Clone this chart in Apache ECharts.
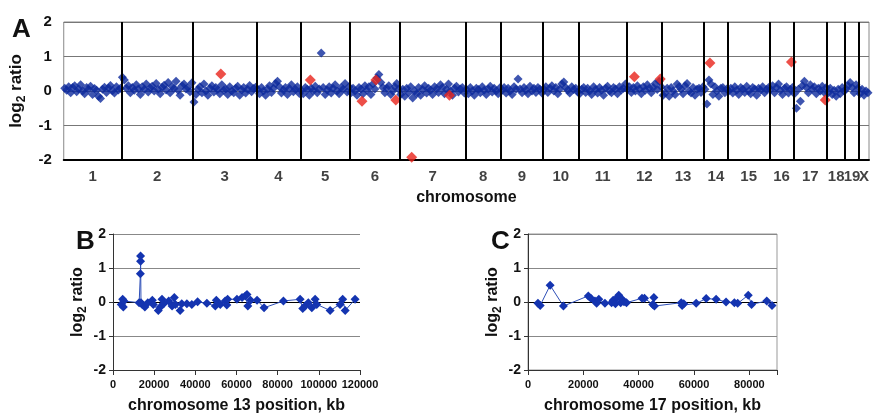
<!DOCTYPE html>
<html>
<head>
<meta charset="utf-8">
<script src="https://cdn.jsdelivr.net/npm/echarts@6/dist/echarts.min.js"></script>
<style>
  html, body { margin: 0; padding: 0; background: #fff; }
  #chart { width: 875px; height: 418px; }
</style>
</head>
<body>
<div id="chart"></div>
<script>
// chromosome names, in plotting order
const chromNames = ['1', '2', '3', '4', '5', '6', '7', '8', '9', '10', '11', '12', '13', '14', '15', '16', '17', '18', '19', 'X'];

// log2 ratio of each clone, in genome order, per chromosome
const chr1 = [0.08, 0.02, 0.12, -0.05, 0.1, 0.15, -0.02, 0.06, 0.18, 0.0, -0.08, 0.1, 0.04, 0.14, -0.1, 0.07, 0.02, -0.15, -0.22, 0.05, 0.11, -0.04, 0.09, 0.16, 0.01, -0.06, 0.12, 0.03, 0.08];
const chr2 = [0.4, 0.32, 0.08, 0.15, -0.05, 0.1, 0.02, 0.18, 0.06, -0.1, 0.12, 0.04, 0.2, -0.03, 0.09, 0.14, 0.0, 0.22, 0.05, -0.08, 0.11, 0.17, 0.03, 0.25, -0.05, 0.13, 0.07, 0.28, 0.02, -0.12, 0.15, 0.2, 0.06, 0.1, -0.02, 0.24];
const chr3 = [-0.32, -0.1, 0.05, 0.12, -0.05, 0.2, 0.0, -0.12, 0.08, 0.15, -0.03, 0.1, 0.04, -0.08, 0.18, 0.02, 0.06, -0.1, 0.12, 0.0, -0.05, 0.08, 0.14, -0.12, 0.03, 0.1, -0.06, 0.05, 0.16, -0.02, 0.07, 0.11];
const chr4 = [0.05, -0.08, 0.1, 0.0, -0.12, 0.06, 0.15, -0.04, 0.08, 0.22, 0.28, 0.12, -0.06, 0.03, 0.1, -0.1, 0.07, 0.18, -0.02, 0.05, 0.12, -0.07];
const chr5 = [0.02, -0.08, 0.1, 0.05, -0.12, 0.08, 0.0, 0.14, -0.05, 0.06, 1.1, 0.1, -0.1, 0.03, 0.12, -0.06, 0.08, 0.18, 0.0, -0.08, 0.1, 0.05, 0.22, -0.03, 0.12];
const chr6 = [-0.05, 0.08, 0.0, -0.12, 0.1, 0.05, -0.08, 0.15, 0.02, 0.12, -0.1, 0.2, 0.06, 0.38, 0.48, 0.25, 0.1, -0.05, 0.08, 0.15, -0.1, 0.0, 0.12, 0.22, 0.05];
const chr7 = [-0.1, 0.05, -0.15, 0.08, -0.05, 0.12, -0.2, 0.0, -0.08, 0.1, -0.12, 0.04, 0.15, -0.06, 0.08, 0.02, -0.1, 0.12, 0.06, -0.04, 0.18, 0.1, -0.08, 0.05, 0.2, 0.0, -0.12, 0.08, 0.14, -0.03, 0.06, 0.1, -0.06];
const chr8 = [0.05, -0.08, 0.1, 0.0, -0.12, 0.08, 0.04, -0.05, 0.12, 0.02, -0.1, 0.06, 0.14, -0.03, 0.08, 0.0, -0.08, 0.1];
const chr9 = [0.02, 0.1, -0.06, 0.08, 0.0, -0.1, 0.12, 0.05, 0.35, 0.06, -0.05, 0.1, 0.02, -0.08, 0.14, 0.0, 0.08, -0.04, 0.1, 0.05, -0.06];
const chr10 = [0.05, 0.12, -0.04, 0.08, 0.15, 0.0, 0.1, -0.08, 0.06, 0.2, 0.26, 0.1, 0.02, -0.06, 0.12, 0.04, 0.08, -0.03];
const chr11 = [-0.08, 0.05, 0.1, -0.04, 0.08, 0.0, -0.1, 0.12, 0.04, -0.06, 0.1, 0.02, -0.12, 0.08, 0.14, 0.0, -0.05, 0.1, 0.06, -0.08, 0.12, 0.03, 0.08, 0.2];
const chr12 = [0.05, 0.12, -0.04, 0.1, 0.0, 0.15, 0.06, -0.08, 0.12, 0.02, 0.18, 0.08, -0.05, 0.1, 0.22, 0.04, 0.28, 0.12];
const chr13 = [-0.12, -0.05, 0.08, -0.15, 0.1, 0.0, -0.1, 0.2, 0.12, 0.05, -0.08, 0.15, 0.22, 0.0, -0.06, 0.1, -0.12, 0.05, 0.08, -0.04, 0.12];
const chr14 = [0.05, -0.38, 0.32, 0.2, -0.1, 0.12, 0.0, -0.15, 0.08, 0.1, -0.05, 0.06];
const chr15 = [0.0, 0.08, -0.06, 0.12, 0.02, -0.1, 0.1, 0.05, -0.04, 0.14, 0.0, -0.08, 0.1, 0.06, -0.12, 0.08, 0.02, 0.12, -0.05, 0.04, 0.1];
const chr16 = [0.05, 0.15, -0.05, 0.1, 0.2, 0.02, -0.1, 0.08, 0.12, -0.06, 0.04, 0.1];
const chr17 = [-0.08, -0.5, 0.05, -0.3, 0.15, 0.28, 0.1, -0.05, 0.18, 0.05, 0.12, -0.08, 0.08, 0.0, 0.14, -0.04, 0.1];
const chr18 = [-0.05, 0.08, -0.1, 0.02, -0.15, 0.05, -0.08, 0.1, 0.0];
const chr19 = [0.05, 0.15, 0.25, 0.1, -0.05, 0.18, 0.08];
const chrX = [-0.08, 0.05, -0.12, 0.0, -0.05];
const chromValues = [chr1, chr2, chr3, chr4, chr5, chr6, chr7, chr8, chr9, chr10, chr11, chr12, chr13, chr14, chr15, chr16, chr17, chr18, chr19, chrX];

// clones called as changed (clone index, log2 ratio)
const changedClones = [[79, 0.49], [124, 0.32], [150, -0.30], [157, 0.32], [167, -0.26], [175, -1.92], [194, -0.12], [287, 0.41], [300, 0.35], [325, 0.81], [366, 0.84], [383, -0.26]];

// panel B: chromosome 13 (kb, log2 ratio)
const chr13Pos = [4000, 4700, 5000, 5300, 12700, 13300, 13400, 13400, 13600, 14200, 15500, 16900, 19100, 19600, 22000, 23000, 23800, 24600, 27100, 28700, 29800, 30300, 32600, 33400, 35900, 38300, 41100, 45600, 49700, 50200, 52100, 54500, 55300, 55700, 60200, 62700, 64300, 65100, 65500, 66800, 70000, 73400, 82800, 90900, 92200, 93300, 94900, 96600, 98200, 99000, 105500, 110300, 111600, 112800, 117600];
const chr13Ratio = [-0.07, 0.08, -0.15, 0.03, -0.02, 0.83, 1.2, 1.35, -0.02, -0.07, -0.15, -0.02, 0.05, -0.07, -0.25, -0.15, 0.08, -0.05, 0.03, -0.12, 0.13, -0.07, -0.25, -0.05, -0.05, -0.07, 0.01, -0.04, -0.12, 0.05, -0.07, 0.03, -0.09, 0.08, 0.08, 0.13, 0.18, 0.22, -0.12, 0.05, 0.05, -0.17, 0.03, 0.08, -0.19, -0.12, -0.02, -0.17, 0.08, -0.07, -0.25, -0.07, 0.08, -0.25, 0.08];

// panel C: chromosome 17 (kb, log2 ratio)
const chr17Pos = [3600, 4400, 8000, 12800, 21800, 22700, 24200, 24800, 25600, 27800, 30200, 30800, 31600, 32300, 32800, 33500, 34000, 34700, 35600, 41200, 42100, 45100, 45500, 45700, 55400, 55700, 56300, 60800, 64400, 68000, 71600, 74600, 75800, 79600, 80800, 86300, 88200];
const chr17Ratio = [-0.04, -0.1, 0.49, -0.12, 0.18, 0.11, 0.03, -0.04, 0.08, -0.04, -0.02, 0.05, -0.05, 0.13, 0.2, -0.02, 0.08, 0.01, -0.02, 0.11, 0.11, -0.07, 0.13, -0.12, -0.02, -0.1, -0.05, -0.04, 0.1, 0.08, 0, -0.02, -0.04, 0.2, -0.07, 0.03, -0.1];

// build genome-wide points, chromosome boundaries and label positions
const clonePoints = [];
const bounds = [];
const labelPoints = [];
let offset = 0;
chromValues.forEach((arr, k) => {
  arr.forEach((v, i) => clonePoints.push([offset + i + 0.5, v]));
  labelPoints.push({ value: [offset + arr.length / 2, -2], name: chromNames[k] });
  offset += arr.length;
  bounds.push(offset);
});
const totalClones = offset;

const font = 'Liberation Sans, Arial, sans-serif';
const blue = '#0e2a9c';
const txt = { color: '#111', fontFamily: font, fontWeight: 'bold' };

const logName = 'log{s|2} ratio';
const logRich = { s: { fontSize: 12, fontFamily: font, fontWeight: 'bold', color: '#111', padding: [10, 0, 0, 0] } };

function smallY(gridIndex) {
  return {
    gridIndex, type: 'value', min: -2, max: 2, interval: 1,
    axisLine: { show: true, lineStyle: { color: '#333', width: 1 } },
    axisTick: { show: true, length: 4, lineStyle: { color: '#333' } },
    axisLabel: { ...txt, fontSize: 14, margin: 7 },
    splitLine: { lineStyle: { color: ['#888', '#888', '#000', '#888', '#888'], width: 1 } },
    name: logName, nameLocation: 'middle', nameGap: 24,
    nameTextStyle: { ...txt, fontSize: 16, rich: logRich },
  };
}
function smallX(gridIndex, max, name) {
  return {
    gridIndex, type: 'value', min: 0, max, interval: 20000,
    axisLine: { onZero: false, lineStyle: { color: '#333', width: 1 } },
    axisTick: { show: true, length: 5, lineStyle: { color: '#333' } },
    axisLabel: { ...txt, fontSize: 11, margin: 9, formatter: v => (v % 20000 === 0 ? String(v) : '') },
    splitLine: { show: false },
    name, nameLocation: 'middle', nameGap: 28,
    nameTextStyle: { ...txt, fontSize: 16 },
  };
}

const chart = echarts.init(document.getElementById('chart'));
chart.setOption({
  animation: false,
  backgroundColor: '#fff',
  title: [
    { text: 'A', left: 7, top: 12, textStyle: { ...txt, fontSize: 26 } },
    { text: 'B', left: 71, top: 224, textStyle: { ...txt, fontSize: 26 } },
    { text: 'C', left: 486, top: 224, textStyle: { ...txt, fontSize: 26 } },
  ],
  grid: [
    { left: 58, top: 22, width: 811, height: 138, show: true, borderColor: '#888', borderWidth: 1 },
    { left: 113, top: 234, width: 247, height: 136 },
    { left: 528, top: 234, width: 249, height: 136, show: true, borderColor: '#999', borderWidth: 1 },
  ],
  xAxis: [
    {
      gridIndex: 0, type: 'value', min: 0, max: totalClones,
      axisLine: { onZero: false, lineStyle: { color: '#000', width: 2 } },
      axisTick: { show: false }, axisLabel: { show: false }, splitLine: { show: false },
      name: 'chromosome', nameLocation: 'middle', nameGap: 30,
      nameTextStyle: { ...txt, fontSize: 16 },
    },
    smallX(1, 120000, 'chromosome 13 position, kb'),
    smallX(2, 90000, 'chromosome 17 position, kb'),
  ],
  yAxis: [
    {
      gridIndex: 0, type: 'value', min: -2, max: 2, interval: 1,
      axisLine: { show: false }, axisTick: { show: false },
      axisLabel: { ...txt, fontSize: 15, margin: 12 },
      splitLine: { lineStyle: { color: '#777', width: 1 } },
      name: logName, nameLocation: 'middle', nameGap: 26,
      nameTextStyle: { ...txt, fontSize: 17, rich: logRich },
    },
    smallY(1),
    smallY(2),
  ],
  series: [
    {
      // chromosome boundaries
      type: 'line', xAxisIndex: 0, yAxisIndex: 0, data: [], z: 1, silent: true,
      markLine: {
        symbol: 'none', silent: true, animation: false,
        label: { show: false },
        lineStyle: { color: '#000', width: 2, type: 'solid' },
        data: bounds.slice(0, -1).map(b => ({ xAxis: b })),
      },
    },
    {
      type: 'scatter', xAxisIndex: 0, yAxisIndex: 0, z: 3,
      symbol: 'diamond', symbolSize: 9,
      itemStyle: { color: blue },
      data: clonePoints,
    },
    {
      type: 'scatter', xAxisIndex: 0, yAxisIndex: 0, z: 4,
      symbol: 'diamond', symbolSize: 11,
      itemStyle: { color: '#e8231a' },
      data: changedClones,
    },
    {
      // chromosome names under panel A
      type: 'scatter', xAxisIndex: 0, yAxisIndex: 0, z: 2, symbolSize: 0, silent: true,
      label: { show: true, position: 'bottom', distance: 9, formatter: p => p.name, ...txt, fontSize: 15 },
      data: labelPoints,
    },
    {
      type: 'line', xAxisIndex: 1, yAxisIndex: 1,
      symbol: 'diamond', symbolSize: 9, showAllSymbol: true,
      lineStyle: { color: '#2f50b8', width: 1 },
      itemStyle: { color: '#1434b0' },
      data: chr13Pos.map((x, i) => [x, chr13Ratio[i]]),
    },
    {
      type: 'line', xAxisIndex: 2, yAxisIndex: 2,
      symbol: 'diamond', symbolSize: 9, showAllSymbol: true,
      lineStyle: { color: '#2f50b8', width: 1 },
      itemStyle: { color: '#1434b0' },
      data: chr17Pos.map((x, i) => [x, chr17Ratio[i]]),
    },
  ],
});
</script>
</body>
</html>
